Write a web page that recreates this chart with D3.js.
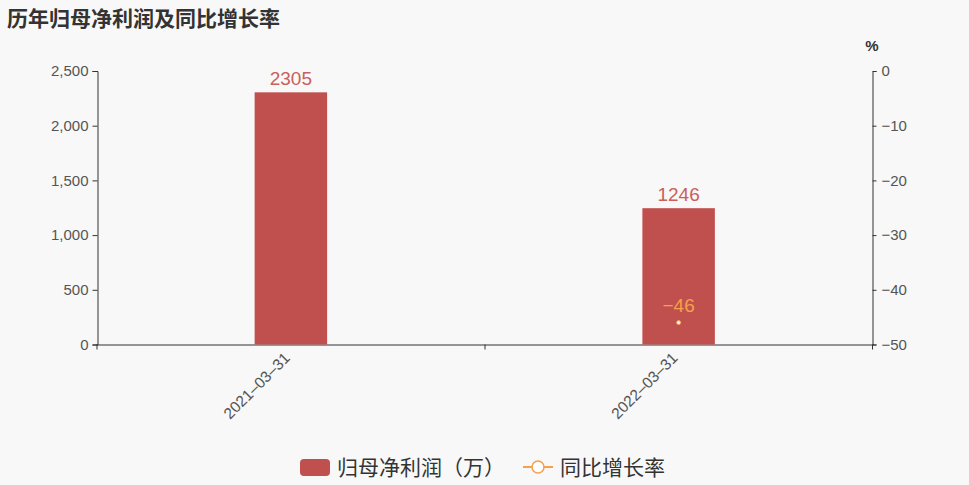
<!DOCTYPE html>
<html>
<head>
<meta charset="utf-8">
<script src="https://cdn.jsdelivr.net/npm/d3@7/dist/d3.min.js"></script>
<style>
  body { margin: 0; background: #f8f8f8; }
  svg { display: block; font-family: "Noto Sans CJK SC", "Liberation Sans", sans-serif; }
</style>
</head>
<body>
<div id="chart"></div>
<script>
// data
var categories = ["2021-03-31", "2022-03-31"];
var profit = [2305, 1246];
var growth = [null, -46];
var leftTicks = [0, 500, 1000, 1500, 2000, 2500];
var rightTicks = [0, -10, -20, -30, -40, -50];

var width = 969, height = 485;
var barColor = "#c0504d", lineColor = "#f5a04a", axisColor = "#333", textColor = "#555";

var svg = d3.select("#chart").append("svg")
  .attr("width", width)
  .attr("height", height);

svg.append("rect").attr("width", width).attr("height", height).attr("fill", "#f8f8f8");

var x = d3.scaleBand().domain(categories).range([97, 872.5]);
var yL = d3.scaleLinear().domain([0, 2500]).range([344.5, 71]);
var yR = d3.scaleLinear().domain([-50, 0]).range([344.5, 71]);

// title
svg.append("text")
  .attr("x", 7).attr("y", 26)
  .attr("font-size", 21).attr("font-weight", "bold")
  .attr("fill", "#333")
  .text("历年归母净利润及同比增长率");

// left axis
var gl = svg.append("g").attr("transform", "translate(97.5,0)")
  .call(d3.axisLeft(yL).tickValues(leftTicks).tickSize(5).tickPadding(4).tickFormat(d3.format(",")));
// right axis
var gr = svg.append("g").attr("transform", "translate(872.5,0)")
  .call(d3.axisRight(yR).tickValues(rightTicks).tickSize(4).tickPadding(5).tickFormat(function(d) { return d === 0 ? "0" : "\u2212" + Math.abs(d); }));
// bottom axis
var gb = svg.append("g").attr("transform", "translate(0,344.5)")
  .call(d3.axisBottom(x).tickSize(0).tickFormat(""));
gb.selectAll(".tick").remove();
gb.selectAll(".bt")
  .data([97, 485, 872.5])
  .enter().append("line")
  .attr("x1", function(d) { return d; }).attr("x2", function(d) { return d; })
  .attr("y1", 0).attr("y2", 5)
  .attr("stroke", axisColor);

[gl, gr, gb].forEach(function(g) {
  g.select(".domain").attr("stroke", axisColor);
  g.selectAll(".tick line").attr("stroke", axisColor);
  g.selectAll(".tick text").attr("fill", textColor).attr("font-size", 15)
    .attr("font-family", "Liberation Sans, sans-serif");
});

// category labels
svg.selectAll(".cat")
  .data(categories)
  .enter().append("text")
  .attr("transform", function(d) {
    return "translate(" + (x(d) + x.bandwidth() / 2) + ",359) rotate(-45)";
  })
  .attr("text-anchor", "end")
  .attr("font-size", 15.5)
  .attr("font-family", "Liberation Sans, sans-serif")
  .attr("fill", textColor)
  .text(function(d) { return d.replace(/-/g, "\u2013"); });

// % label
svg.append("text")
  .attr("x", 872).attr("y", 51)
  .attr("text-anchor", "middle")
  .attr("font-size", 15).attr("font-weight", "bold")
  .attr("fill", "#333")
  .attr("font-family", "Liberation Sans, sans-serif")
  .text("%");

// bars
var barW = 72.5;
svg.selectAll(".bar")
  .data(profit)
  .enter().append("rect")
  .attr("x", function(d, i) { return x(categories[i]) + x.bandwidth() / 2 - barW / 2; })
  .attr("y", function(d) { return yL(d); })
  .attr("width", barW)
  .attr("height", function(d) { return yL(0) - yL(d); })
  .attr("fill", barColor);

svg.selectAll(".barlabel")
  .data(profit)
  .enter().append("text")
  .attr("x", function(d, i) { return x(categories[i]) + x.bandwidth() / 2; })
  .attr("y", function(d) { return yL(d) - 7; })
  .attr("text-anchor", "middle")
  .attr("font-size", 19)
  .attr("font-family", "Liberation Sans, sans-serif")
  .attr("fill", "#c9605c")
  .text(function(d) { return d; });

// growth points
var pts = growth.map(function(v, i) { return { c: categories[i], v: v }; })
  .filter(function(d) { return d.v !== null; });

svg.append("path")
  .datum(pts)
  .attr("fill", "none")
  .attr("stroke", lineColor)
  .attr("stroke-width", 2)
  .attr("d", d3.line()
    .x(function(d) { return x(d.c) + x.bandwidth() / 2; })
    .y(function(d) { return yR(d.v); }));

svg.selectAll(".pt")
  .data(pts)
  .enter().append("circle")
  .attr("cx", function(d) { return x(d.c) + x.bandwidth() / 2; })
  .attr("cy", function(d) { return yR(d.v); })
  .attr("r", 2)
  .attr("fill", "#fff")
  .attr("stroke", lineColor)
  .attr("stroke-width", 1);

svg.selectAll(".ptlabel")
  .data(pts)
  .enter().append("text")
  .attr("x", function(d) { return x(d.c) + x.bandwidth() / 2; })
  .attr("y", function(d) { return yR(d.v) - 11; })
  .attr("text-anchor", "middle")
  .attr("font-size", 19)
  .attr("font-family", "Liberation Sans, sans-serif")
  .attr("fill", lineColor)
  .text(function(d) { return "\u2212" + Math.abs(d.v); });

// legend
var lg = svg.append("g").attr("transform", "translate(0,467)");
lg.append("rect").attr("x", 300).attr("y", -8).attr("width", 30).attr("height", 17).attr("rx", 4)
  .attr("fill", barColor);
lg.append("text").attr("x", 337).attr("y", 8).attr("font-size", 21).attr("fill", "#333")
  .attr("textLength", 168)
  .text("归母净利润（万）");
lg.append("line").attr("x1", 523).attr("x2", 553).attr("y1", 0).attr("y2", 0)
  .attr("stroke", lineColor).attr("stroke-width", 2);
lg.append("circle").attr("cx", 538).attr("cy", 0).attr("r", 6)
  .attr("fill", "#fff").attr("stroke", lineColor).attr("stroke-width", 1.5);
lg.append("text").attr("x", 560).attr("y", 8).attr("font-size", 21).attr("fill", "#333")
  .text("同比增长率");
</script>
</body>
</html>
